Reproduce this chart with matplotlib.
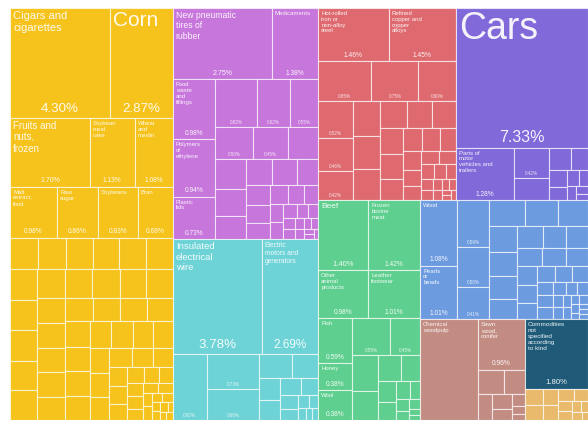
import matplotlib
matplotlib.use("Agg")
import matplotlib.pyplot as plt
from matplotlib.patches import Rectangle

plt.rcParams["font.family"] = ["Liberation Sans", "DejaVu Sans"]

# ---- data: export shares (%) ----
# vegetable products / foodstuffs (yellow)
veg_vals = [4.44, 2.79, 2.23, 1.25, 1.06, 0.97, 0.84, 0.82, 0.72]
veg_names = ["Cigars and\ncigarettes", "Corn", "Fruits and\nnuts,\nfrozen", "Soybean\nmeal\ncake",
             "Wheat\nand\nmeslin", "Malt\nextract,\nfood", "Raw\nsugar", "Soybeans", "Bran"]
veg_pcts = ["4.30%", "2.87%", "1.70%", "1.13%", "1.08%", "0.98%", "0.86%", "0.83%", "0.68%"]
veg_rest = [0.36, 0.35, 0.35, 0.34, 0.34, 0.34, 0.33, 0.33, 0.33, 0.32, 0.32, 0.32, 0.31, 0.31,
            0.30, 0.30, 0.29, 0.29, 0.28, 0.28, 0.27, 0.27, 0.26, 0.26, 0.25, 0.25, 0.24, 0.24,
            0.24, 0.23, 0.23, 0.22, 0.21, 0.20, 0.19, 0.18, 0.17, 0.16, 0.15, 0.14, 0.13, 0.12,
            0.11, 0.10, 0.09, 0.08, 0.08, 0.07, 0.06, 0.06, 0.05, 0.05, 0.04, 0.04, 0.03, 0.03,
            0.03, 0.02, 0.02, 0.02]

# chemicals / plastics (purple)
chem_vals = [2.87, 1.34, 1.02, 0.97, 0.73]
chem_names = ["New pneumatic\ntires of\nrubber", "Medicaments", "Food\nwaste\nand\nfillings",
              "Polymers\nof\nethylene", "Plastic\nlids"]
chem_pcts = ["2.75%", "1.38%", "0.98%", "0.94%", "0.73%"]
chem_rest = [0.82, 0.62, 0.55, 0.50, 0.45, 0.40, 0.37, 0.34, 0.30, 0.27, 0.25, 0.22, 0.20, 0.18,
             0.16, 0.14, 0.12, 0.11, 0.10, 0.09, 0.08, 0.07, 0.06, 0.05, 0.05, 0.04, 0.04, 0.03,
             0.03, 0.02, 0.02, 0.02]

# machines (cyan)
mach_vals = [4.13, 2.60]
mach_names = ["Insulated\nelectrical\nwire", "Electric\nmotors and\ngenerators"]
mach_pcts = ["3.78%", "2.69%"]
mach_rest = [0.92, 0.73, 0.66, 0.32, 0.25, 0.20, 0.17, 0.14, 0.12, 0.10, 0.08, 0.06, 0.05, 0.04,
             0.03, 0.03]

# metals (red)
metal_vals = [1.52, 1.46]
metal_names = ["Hot-rolled\niron or\nnon-alloy\nsteel", "Refined\ncopper and\ncopper\nalloys"]
metal_pcts = ["1.46%", "1.45%"]
metal_rest = [0.85, 0.75, 0.60, 0.52, 0.46, 0.42, 0.38, 0.36, 0.34, 0.30, 0.28, 0.26, 0.24, 0.22,
              0.20, 0.18, 0.16, 0.15, 0.14, 0.12, 0.11, 0.10, 0.09, 0.08, 0.07, 0.06, 0.05, 0.05,
              0.04, 0.04, 0.03, 0.03, 0.02, 0.02, 0.02]

# transportation (violet)
trans_vals = [7.45, 1.24]
trans_names = ["Cars", "Parts of\nmotor\nvehicles and\ntrailers"]
trans_pcts = ["7.33%", "1.28%"]
trans_rest = [0.42, 0.32, 0.20, 0.16, 0.12, 0.10, 0.08, 0.06, 0.05, 0.04, 0.03]

# animal products (green)
anim_vals = [1.41, 1.47, 0.97, 1.01, 0.62, 0.37, 0.41]
anim_names = ["Beef", "Frozen\nbovine\nmeat", "Other\nanimal\nproducts", "Leather\nfootwear",
              "Fish", "Honey", "Wool"]
anim_pcts = ["1.40%", "1.42%", "0.98%", "1.01%", "0.59%", "0.38%", "0.38%"]
anim_rest = [0.55, 0.45, 0.38, 0.30, 0.25, 0.20, 0.16, 0.13, 0.10, 0.08, 0.06, 0.05, 0.04, 0.03,
             0.02]

# stone / instruments (blue)
stone_vals = [0.98, 0.81]
stone_names = ["Wood", "Pearls\nor\nbeads"]
stone_pcts = ["1.08%", "1.01%"]
stone_rest = [0.59, 0.50, 0.41, 0.38, 0.35, 0.32, 0.30, 0.28, 0.26, 0.24, 0.22, 0.20, 0.19, 0.18,
              0.17, 0.16, 0.15, 0.14, 0.13, 0.12, 0.11, 0.10, 0.09, 0.08, 0.08, 0.07, 0.06, 0.06,
              0.05, 0.05, 0.04, 0.04, 0.03, 0.03, 0.03, 0.02, 0.02, 0.02, 0.02]

# paper goods (brown)
wood_vals = [2.34, 0.95]
wood_names = ["Chemical\nwoodpulp", "Sawn\nwood,\nconifer"]
wood_pcts = ["", "0.96%"]
wood_rest = [0.26, 0.20, 0.15, 0.12, 0.09, 0.06, 0.04, 0.03]

# not specified (dark teal)
other_vals = [1.78]
other_names = ["Commodities\nnot\nspecified\naccording\nto kind"]
other_pcts = ["1.80%"]

# arts / misc (light orange)
arts_rest = [0.12, 0.11, 0.10, 0.09, 0.08, 0.07, 0.06, 0.05, 0.04, 0.03, 0.03, 0.02]

# colours
YELLOW = "#F5C31B"
PURPLE = "#C776DB"
CYAN = "#6DD3D6"
RED = "#DE6A6F"
VIOLET = "#8169D9"
GREEN = "#5ECF8E"
BLUE = "#6D9BE0"
BROWN = "#C38C83"
TEAL = "#1F5B78"
ORANGE = "#E9BA6B"

# font sizes (name, pct) for the big labels, everything else uses the default
STYLE = {
    "Cigars and\ncigarettes": (8, 9.6),
    "Corn": (15, 9.6),
    "Fruits and\nnuts,\nfrozen": (7, 5),
    "Cars": (27, 11.5),
    "Insulated\nelectrical\nwire": (6.8, 9.6),
    "Electric\nmotors and\ngenerators": (4.8, 8.5),
    "New pneumatic\ntires of\nrubber": (6.2, 5),
    "Beef": (6, 5.4),
    "Commodities\nnot\nspecified\naccording\nto kind": (4.6, 5.6),
}
DEFAULT_STYLE = (4.3, 4.8)

W, H = 578, 412


def tiles(vals, names, pcts, idx):
    return [("t", vals[i], names[i], pcts[i]) for i in idx]


def total(n):
    if n[0] == "t":
        return n[1]
    if n[0] == "sq":
        return sum(n[1])
    if n[0] == "g":
        return total(n[2])
    return sum(total(c) for c in n[1])


def worst(row, side):
    s = sum(row)
    return max(max(side * side * r / (s * s), s * s / (side * side * r)) for r in row)


def squarify(vals, x, y, w, h):
    scale = w * h / sum(vals)
    areas = [v * scale for v in vals]
    rects = []
    i = 0
    while i < len(areas):
        side = min(w, h)
        row = [areas[i]]
        j = i + 1
        while j < len(areas) and worst(row + [areas[j]], side) <= worst(row, side):
            row.append(areas[j])
            j += 1
        s = sum(row)
        if w >= h:
            cw = s / h
            yy = y
            for a in row:
                rects.append((x, yy, cw, a / cw))
                yy += a / cw
            x += cw
            w -= cw
        else:
            rh = s / w
            xx = x
            for a in row:
                rects.append((xx, y, a / rh, rh))
                xx += a / rh
            y += rh
            h -= rh
        i = j
    return rects


def layout(n, x, y, w, h, color, out):
    kind = n[0]
    if kind == "g":
        layout(n[2], x, y, w, h, n[1], out)
    elif kind == "t":
        out.append((x, y, w, h, color, n[1], n[2], n[3], True))
    elif kind == "sq":
        for r, v in zip(squarify(n[1], x, y, w, h), n[1]):
            out.append((*r, color, v, "", "", False))
    else:
        sizes = [total(c) for c in n[1]]
        s = sum(sizes)
        for c, v in zip(n[1], sizes):
            if kind == "h":
                layout(c, x, y, w * v / s, h, color, out)
                x += w * v / s
            else:
                layout(c, x, y, w, h * v / s, color, out)
                y += h * v / s


tree = ("h", [
    ("g", YELLOW, ("v", [("h", tiles(veg_vals, veg_names, veg_pcts, [0, 1])),
                         ("h", tiles(veg_vals, veg_names, veg_pcts, [2, 3, 4])),
                         ("h", tiles(veg_vals, veg_names, veg_pcts, [5, 6, 7, 8])),
                         ("sq", veg_rest)])),
    ("v", [
        ("g", PURPLE, ("v", [("h", tiles(chem_vals, chem_names, chem_pcts, [0, 1])),
                             ("h", [("v", tiles(chem_vals, chem_names, chem_pcts, [2, 3, 4])),
                                    ("sq", chem_rest)])])),
        ("g", CYAN, ("v", [("h", tiles(mach_vals, mach_names, mach_pcts, [0, 1])),
                           ("sq", mach_rest)])),
    ]),
    ("v", [
        ("h", [
            ("g", RED, ("v", [("h", tiles(metal_vals, metal_names, metal_pcts, [0, 1])),
                              ("sq", metal_rest)])),
            ("g", VIOLET, ("v", [tiles(trans_vals, trans_names, trans_pcts, [0])[0],
                                 ("h", tiles(trans_vals, trans_names, trans_pcts, [1])
                                  + [("sq", trans_rest)])])),
        ]),
        ("h", [
            ("g", GREEN, ("v", [("h", tiles(anim_vals, anim_names, anim_pcts, [0, 1])),
                                ("h", tiles(anim_vals, anim_names, anim_pcts, [2, 3])),
                                ("h", [("v", tiles(anim_vals, anim_names, anim_pcts, [4, 5, 6])),
                                       ("sq", anim_rest)])])),
            ("v", [
                ("g", BLUE, ("h", [("v", tiles(stone_vals, stone_names, stone_pcts, [0, 1])),
                                   ("sq", stone_rest)])),
                ("h", [
                    ("g", BROWN, ("h", [tiles(wood_vals, wood_names, wood_pcts, [0])[0],
                                        ("v", tiles(wood_vals, wood_names, wood_pcts, [1])
                                         + [("sq", wood_rest)])])),
                    ("v", [("g", TEAL, ("h", tiles(other_vals, other_names, other_pcts, [0]))),
                           ("g", ORANGE, ("sq", arts_rest))]),
                ]),
            ]),
        ]),
    ]),
])

rects = []
layout(tree, 0, 0, W, H, YELLOW, rects)

fig = plt.figure(figsize=(5.88, 4.23), dpi=100)
ax = fig.add_axes([10 / 588, 3 / 423, 578 / 588, 412 / 423])
ax.set_xlim(0, W)
ax.set_ylim(H, 0)
ax.axis("off")

for x, y, w, h, color, v, name, pct, labelled in rects:
    patch = Rectangle((x, y), w, h, facecolor=color, edgecolor=(1, 1, 1, 0.65), linewidth=0.8)
    ax.add_patch(patch)
    if labelled:
        nfs, pfs = STYLE.get(name, DEFAULT_STYLE)
        t = ax.text(x + 3, y + 3, name, ha="left", va="top", fontsize=nfs,
                    color="white", alpha=0.92, linespacing=1.2)
        t.set_clip_path(patch)
        if pct:
            t = ax.text(x + w / 2, y + h - 2.5, pct, ha="center", va="bottom",
                        fontsize=pfs, color="white", alpha=0.92)
            t.set_clip_path(patch)
    elif w * h > 1000 and w > 20:
        t = ax.text(x + w / 2, y + h - 2, "%.2f%%" % v, ha="center", va="bottom",
                    fontsize=3.3, color="white", alpha=0.8)
        t.set_clip_path(patch)

fig.savefig("out.png", dpi=100)
